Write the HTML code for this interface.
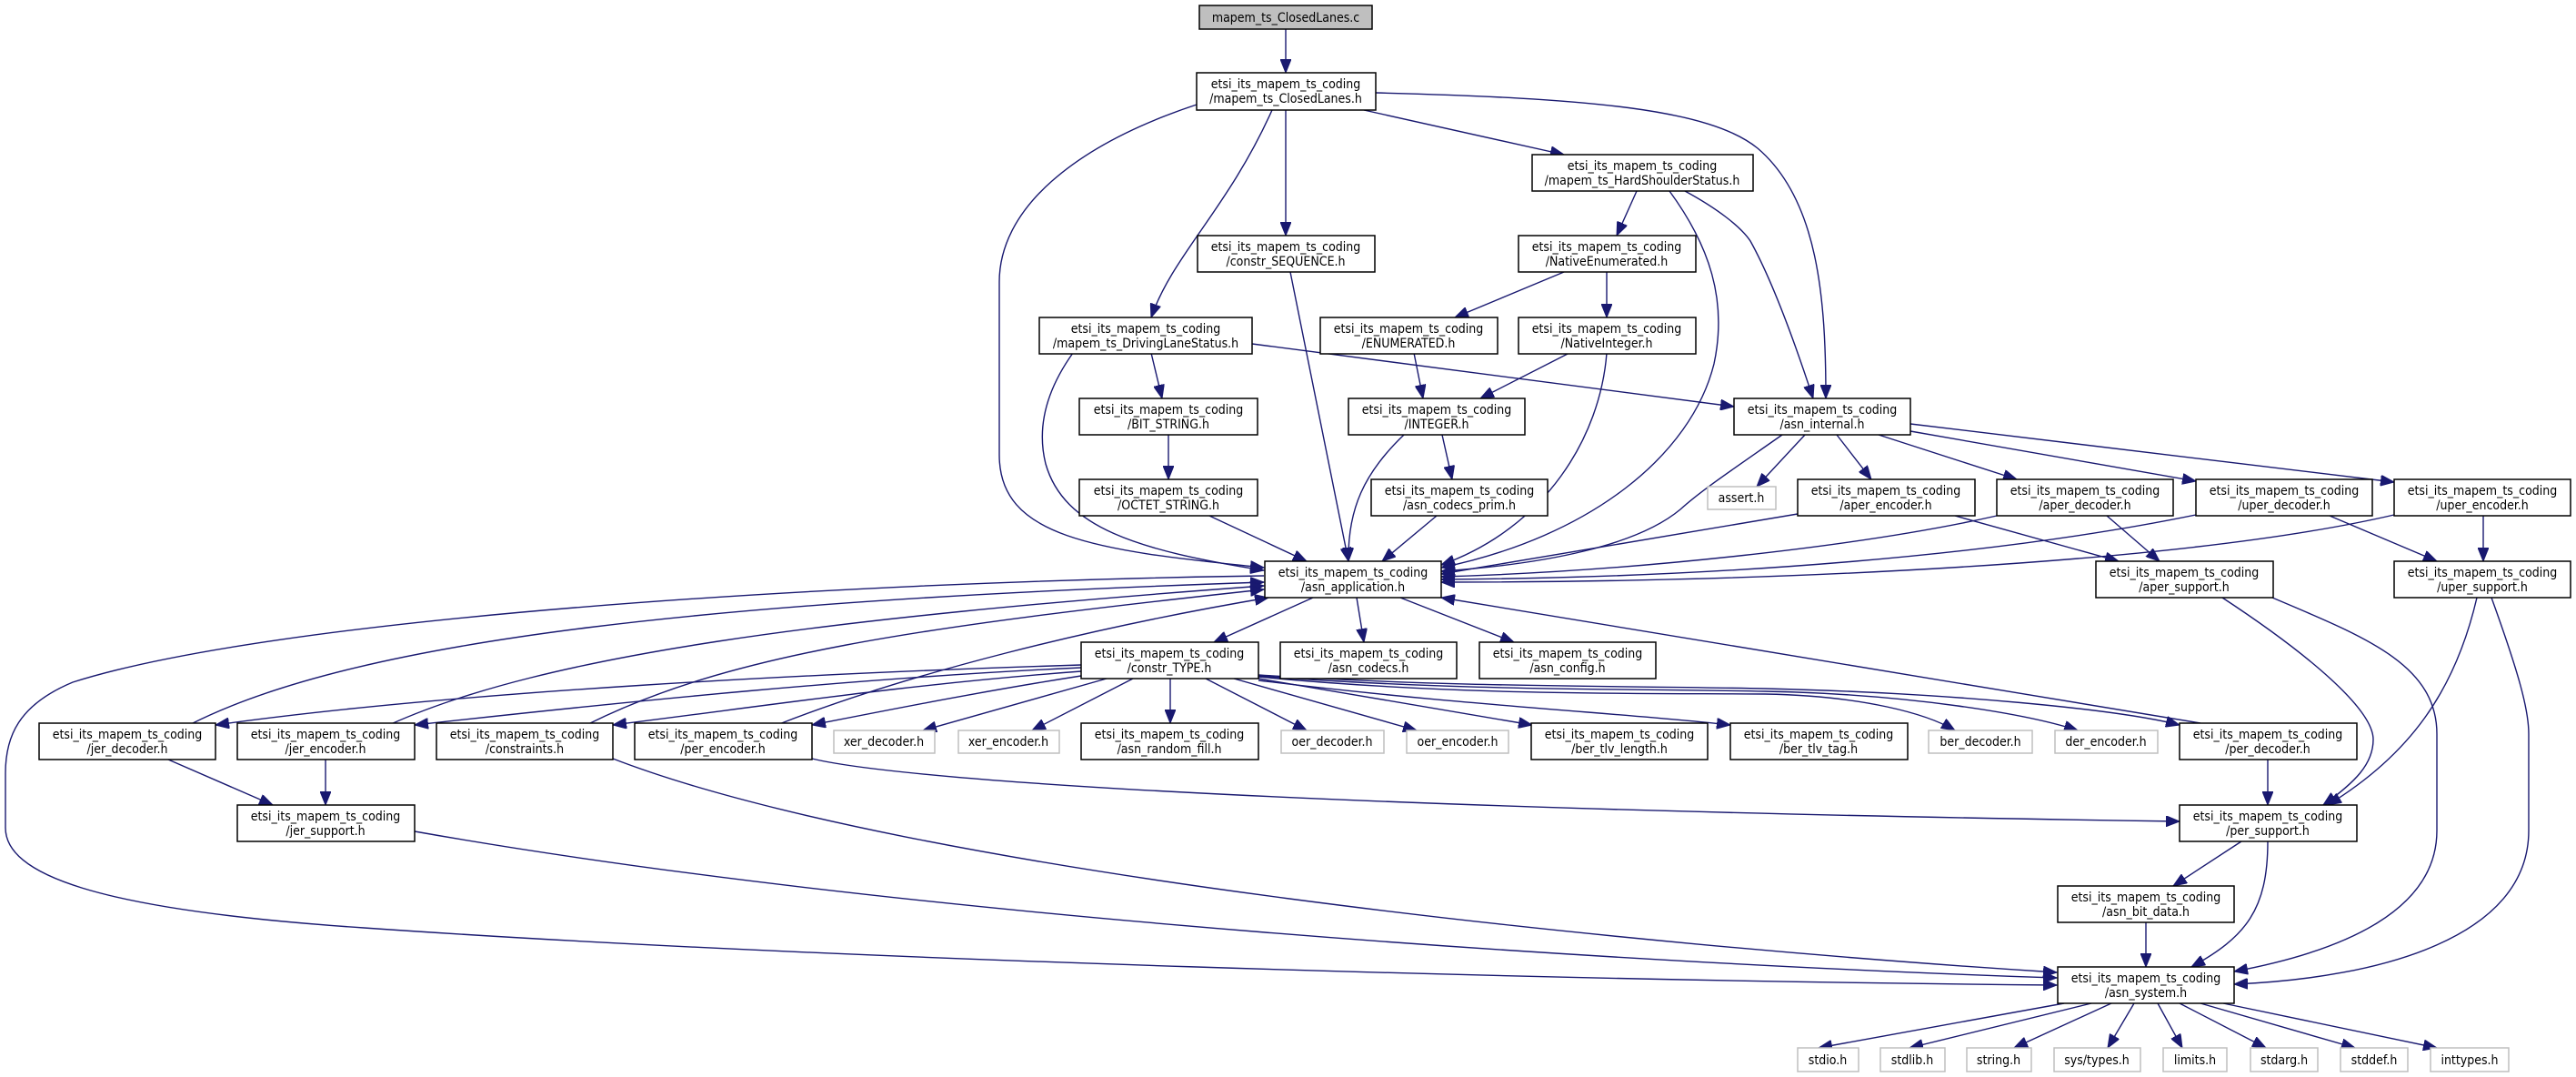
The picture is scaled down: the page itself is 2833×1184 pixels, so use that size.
<!DOCTYPE html>
<html><head><meta charset="utf-8"><style>
html,body{margin:0;padding:0;background:#fff;}
svg{display:block;}
text{font-family:"DejaVu Sans Condensed","DejaVu Sans","Liberation Sans",sans-serif;font-size:14px;fill:#000;text-anchor:middle;}
.n{fill:#fff;stroke:#000;stroke-width:1.5;}
.g{fill:#fff;stroke:#bfbfbf;stroke-width:1.5;}
.e{fill:none;stroke:#191970;stroke-width:1.4;marker-end:url(#a);}
</style></head><body>
<svg width="2833" height="1184" viewBox="0 0 2833 1184" xmlns="http://www.w3.org/2000/svg">
<defs><marker id="a" markerWidth="16" markerHeight="12" refX="15" refY="6" orient="auto" markerUnits="userSpaceOnUse"><path d="M0,0 L15,6 L0,12 z" fill="#191970" stroke="#191970"/></marker></defs>

<!-- edges -->
<path class="e" d="M1414,32 L1414,80"/>
<path class="e" d="M1316,115 C1180,160 1099,230 1099,310 L1099,500 C1099,590 1200,605 1390,624"/>
<path class="e" d="M1414,121 L1414,259"/>
<path class="e" d="M1399,121 C1350,230 1290,280 1266,349"/>
<path class="e" d="M1500,121 L1720,170"/>
<path class="e" d="M1513,102 C1750,108 1880,120 1933,163 C2000,220 2008,330 2008,438"/>
<path class="e" d="M1180,388 C1150,430 1140,470 1150,510 C1170,580 1250,605 1390,627"/>
<path class="e" d="M1266,388 L1278,438"/>
<path class="e" d="M1377,378 L1907,447"/>
<path class="e" d="M1419,299 L1483,617"/>
<path class="e" d="M1800,210 L1778,259"/>
<path class="e" d="M1836,210 C1880,270 1900,330 1885,400 C1860,500 1750,590 1585,624"/>
<path class="e" d="M1853,210 C1890,230 1915,250 1925,265 C1950,310 1975,380 1994,438"/>
<path class="e" d="M1720,299 L1600,349"/>
<path class="e" d="M1767,299 L1767,349"/>
<path class="e" d="M1555,388 L1565,438"/>
<path class="e" d="M1726,388 L1628,438"/>
<path class="e" d="M1767,388 C1760,480 1700,580 1585,621"/>
<path class="e" d="M1285,478 L1285,527"/>
<path class="e" d="M1330,567 L1437,617"/>
<path class="e" d="M1544,478 C1500,520 1482,560 1483,617"/>
<path class="e" d="M1586,478 L1597,527"/>
<path class="e" d="M1580,567 L1520,617"/>
<path class="e" d="M1960,478 C1900,520 1870,540 1848,560 C1800,600 1700,620 1585,628"/>
<path class="e" d="M1985,478 L1932,535"/>
<path class="e" d="M2020,478 L2058,527"/>
<path class="e" d="M2066,478 L2218,527"/>
<path class="e" d="M2101,474 L2415,529"/>
<path class="e" d="M2101,466 L2633,530"/>
<path class="e" d="M1977,565 L1585,631"/>
<path class="e" d="M2196,567 C2050,600 1800,628 1585,634"/>
<path class="e" d="M2415,566 C2200,610 1900,635 1585,637"/>
<path class="e" d="M2633,566 C2400,620 1950,640 1585,640"/>
<path class="e" d="M2150,567 L2330,617"/>
<path class="e" d="M2317,567 L2375,617"/>
<path class="e" d="M2562,567 L2680,617"/>
<path class="e" d="M2731,567 L2731,617"/>
<path class="e" d="M2444,657 C2540,720 2610,780 2610,813 C2610,840 2590,860 2555,885"/>
<path class="e" d="M2499,657 C2600,700 2680,730 2680,807 L2680,913 C2680,1000 2580,1045 2457,1068"/>
<path class="e" d="M2724,657 C2700,760 2650,830 2560,885"/>
<path class="e" d="M2740,657 C2770,740 2781,780 2781,807 L2781,913 C2781,1030 2620,1075 2457,1082"/>
<path class="e" d="M1444,657 L1335,706"/>
<path class="e" d="M1492,657 L1500,706"/>
<path class="e" d="M1540,657 L1665,706"/>
<path class="e" d="M2420,795 L1585,657"/>
<path class="e" d="M2494,835 L2494,885"/>
<path class="e" d="M1189,731 C900,740 500,760 237,797"/>
<path class="e" d="M1189,734 C950,745 700,770 456,797"/>
<path class="e" d="M1189,738 C1000,752 850,775 674,797"/>
<path class="e" d="M1189,743 C1080,760 980,780 893,797"/>
<path class="e" d="M1217,746 L1015,803"/>
<path class="e" d="M1246,746 L1135,803"/>
<path class="e" d="M1287,746 L1287,795"/>
<path class="e" d="M1326,746 L1437,803"/>
<path class="e" d="M1357,746 L1558,803"/>
<path class="e" d="M1384,746 L1685,797"/>
<path class="e" d="M1384,748 C1600,775 1800,785 1903,797"/>
<path class="e" d="M1384,744 C1600,765 1800,762 1941,763 C2050,765 2120,785 2150,803"/>
<path class="e" d="M1384,743 C1600,760 1800,757 1941,760 C2100,763 2230,785 2285,803"/>
<path class="e" d="M1384,742 C1600,756 1800,754 1941,757 C2150,762 2330,780 2397,797"/>
<path class="e" d="M210,796 C400,700 800,660 1390,640"/>
<path class="e" d="M430,796 C600,720 900,680 1390,644"/>
<path class="e" d="M647,796 C800,720 1000,690 1390,648"/>
<path class="e" d="M857,796 C1000,740 1200,690 1395,657"/>
<path class="e" d="M1390,633 C900,640 300,680 80,750 C20,775 6,810 6,850 L6,910 C6,960 100,1000 400,1020 C900,1055 1700,1078 2262,1083"/>
<path class="e" d="M185,835 L300,885"/>
<path class="e" d="M358,835 L358,885"/>
<path class="e" d="M456,914 C1000,1010 1800,1060 2262,1075"/>
<path class="e" d="M674,834 C1000,960 1800,1040 2262,1069"/>
<path class="e" d="M893,834 C1000,860 1500,890 2397,903"/>
<path class="e" d="M2465,925 L2390,974"/>
<path class="e" d="M2494,925 C2494,1000 2470,1030 2410,1063"/>
<path class="e" d="M2360,1014 L2360,1063"/>
<path class="e" d="M2270,1103 L2000,1152"/>
<path class="e" d="M2300,1103 L2100,1152"/>
<path class="e" d="M2322,1103 L2215,1152"/>
<path class="e" d="M2347,1103 L2318,1152"/>
<path class="e" d="M2373,1103 L2400,1152"/>
<path class="e" d="M2397,1103 L2492,1152"/>
<path class="e" d="M2420,1103 L2590,1152"/>
<path class="e" d="M2445,1103 L2680,1152"/>

<!-- nodes -->
<rect x="1319" y="6" width="190" height="26" fill="#bfbfbf" stroke="#000" stroke-width="1.5"/><text x="1414" y="24">mapem_ts_ClosedLanes.c</text>

<rect class="n" x="1316" y="80" width="197" height="41"/><text x="1414" y="97">etsi_its_mapem_ts_coding</text><text x="1414" y="113">/mapem_ts_ClosedLanes.h</text>
<rect class="n" x="1685" y="170" width="243" height="40"/><text x="1806" y="187">etsi_its_mapem_ts_coding</text><text x="1806" y="203">/mapem_ts_HardShoulderStatus.h</text>
<rect class="n" x="1317" y="259" width="195" height="40"/><text x="1414" y="276">etsi_its_mapem_ts_coding</text><text x="1414" y="292">/constr_SEQUENCE.h</text>
<rect class="n" x="1670" y="259" width="195" height="40"/><text x="1767" y="276">etsi_its_mapem_ts_coding</text><text x="1767" y="292">/NativeEnumerated.h</text>
<rect class="n" x="1143" y="349" width="234" height="40"/><text x="1260" y="366">etsi_its_mapem_ts_coding</text><text x="1260" y="382">/mapem_ts_DrivingLaneStatus.h</text>
<rect class="n" x="1452" y="349" width="195" height="40"/><text x="1549" y="366">etsi_its_mapem_ts_coding</text><text x="1549" y="382">/ENUMERATED.h</text>
<rect class="n" x="1670" y="349" width="195" height="40"/><text x="1767" y="366">etsi_its_mapem_ts_coding</text><text x="1767" y="382">/NativeInteger.h</text>
<rect class="n" x="1187" y="438" width="196" height="40"/><text x="1285" y="455">etsi_its_mapem_ts_coding</text><text x="1285" y="471">/BIT_STRING.h</text>
<rect class="n" x="1483" y="438" width="194" height="40"/><text x="1580" y="455">etsi_its_mapem_ts_coding</text><text x="1580" y="471">/INTEGER.h</text>
<rect class="n" x="1907" y="438" width="194" height="40"/><text x="2004" y="455">etsi_its_mapem_ts_coding</text><text x="2004" y="471">/asn_internal.h</text>
<rect class="n" x="1187" y="527" width="196" height="40"/><text x="1285" y="544">etsi_its_mapem_ts_coding</text><text x="1285" y="560">/OCTET_STRING.h</text>
<rect class="n" x="1508" y="527" width="194" height="40"/><text x="1605" y="544">etsi_its_mapem_ts_coding</text><text x="1605" y="560">/asn_codecs_prim.h</text>
<rect class="g" x="1878" y="535" width="75" height="25"/><text x="1915" y="552">assert.h</text>
<rect class="n" x="1977" y="527" width="195" height="40"/><text x="2074" y="544">etsi_its_mapem_ts_coding</text><text x="2074" y="560">/aper_encoder.h</text>
<rect class="n" x="2196" y="527" width="194" height="40"/><text x="2293" y="544">etsi_its_mapem_ts_coding</text><text x="2293" y="560">/aper_decoder.h</text>
<rect class="n" x="2415" y="527" width="194" height="40"/><text x="2512" y="544">etsi_its_mapem_ts_coding</text><text x="2512" y="560">/uper_decoder.h</text>
<rect class="n" x="2633" y="527" width="194" height="40"/><text x="2730" y="544">etsi_its_mapem_ts_coding</text><text x="2730" y="560">/uper_encoder.h</text>
<rect class="n" x="1391" y="617" width="194" height="40"/><text x="1488" y="634">etsi_its_mapem_ts_coding</text><text x="1488" y="650">/asn_application.h</text>
<rect class="n" x="2305" y="617" width="195" height="40"/><text x="2402" y="634">etsi_its_mapem_ts_coding</text><text x="2402" y="650">/aper_support.h</text>
<rect class="n" x="2633" y="617" width="194" height="40"/><text x="2730" y="634">etsi_its_mapem_ts_coding</text><text x="2730" y="650">/uper_support.h</text>
<rect class="n" x="1189" y="706" width="195" height="40"/><text x="1286" y="723">etsi_its_mapem_ts_coding</text><text x="1286" y="739">/constr_TYPE.h</text>
<rect class="n" x="1408" y="706" width="194" height="40"/><text x="1505" y="723">etsi_its_mapem_ts_coding</text><text x="1505" y="739">/asn_codecs.h</text>
<rect class="n" x="1627" y="706" width="194" height="40"/><text x="1724" y="723">etsi_its_mapem_ts_coding</text><text x="1724" y="739">/asn_config.h</text>

<rect class="n" x="43" y="795" width="194" height="40"/><text x="140" y="812">etsi_its_mapem_ts_coding</text><text x="140" y="828">/jer_decoder.h</text>
<rect class="n" x="261" y="795" width="195" height="40"/><text x="358" y="812">etsi_its_mapem_ts_coding</text><text x="358" y="828">/jer_encoder.h</text>
<rect class="n" x="480" y="795" width="194" height="40"/><text x="577" y="812">etsi_its_mapem_ts_coding</text><text x="577" y="828">/constraints.h</text>
<rect class="n" x="698" y="795" width="195" height="40"/><text x="795" y="812">etsi_its_mapem_ts_coding</text><text x="795" y="828">/per_encoder.h</text>
<rect class="g" x="917" y="803" width="111" height="25"/><text x="972" y="820">xer_decoder.h</text>
<rect class="g" x="1054" y="803" width="111" height="25"/><text x="1109" y="820">xer_encoder.h</text>
<rect class="n" x="1189" y="795" width="195" height="40"/><text x="1286" y="812">etsi_its_mapem_ts_coding</text><text x="1286" y="828">/asn_random_fill.h</text>
<rect class="g" x="1409" y="803" width="113" height="25"/><text x="1465" y="820">oer_decoder.h</text>
<rect class="g" x="1547" y="803" width="112" height="25"/><text x="1603" y="820">oer_encoder.h</text>
<rect class="n" x="1684" y="795" width="194" height="40"/><text x="1781" y="812">etsi_its_mapem_ts_coding</text><text x="1781" y="828">/ber_tlv_length.h</text>
<rect class="n" x="1903" y="795" width="195" height="40"/><text x="2000" y="812">etsi_its_mapem_ts_coding</text><text x="2000" y="828">/ber_tlv_tag.h</text>
<rect class="g" x="2121" y="803" width="114" height="25"/><text x="2178" y="820">ber_decoder.h</text>
<rect class="g" x="2260" y="803" width="113" height="25"/><text x="2316" y="820">der_encoder.h</text>
<rect class="n" x="2397" y="795" width="195" height="40"/><text x="2494" y="812">etsi_its_mapem_ts_coding</text><text x="2494" y="828">/per_decoder.h</text>

<rect class="n" x="261" y="885" width="195" height="40"/><text x="358" y="902">etsi_its_mapem_ts_coding</text><text x="358" y="918">/jer_support.h</text>
<rect class="n" x="2397" y="885" width="195" height="40"/><text x="2494" y="902">etsi_its_mapem_ts_coding</text><text x="2494" y="918">/per_support.h</text>
<rect class="n" x="2263" y="974" width="194" height="40"/><text x="2360" y="991">etsi_its_mapem_ts_coding</text><text x="2360" y="1007">/asn_bit_data.h</text>
<rect class="n" x="2263" y="1063" width="194" height="40"/><text x="2360" y="1080">etsi_its_mapem_ts_coding</text><text x="2360" y="1096">/asn_system.h</text>

<rect class="g" x="1977" y="1152" width="67" height="26"/><text x="2010" y="1170">stdio.h</text>
<rect class="g" x="2068" y="1152" width="71" height="26"/><text x="2103" y="1170">stdlib.h</text>
<rect class="g" x="2163" y="1152" width="71" height="26"/><text x="2198" y="1170">string.h</text>
<rect class="g" x="2259" y="1152" width="95" height="26"/><text x="2306" y="1170">sys/types.h</text>
<rect class="g" x="2379" y="1152" width="70" height="26"/><text x="2414" y="1170">limits.h</text>
<rect class="g" x="2475" y="1152" width="74" height="26"/><text x="2512" y="1170">stdarg.h</text>
<rect class="g" x="2574" y="1152" width="74" height="26"/><text x="2611" y="1170">stddef.h</text>
<rect class="g" x="2673" y="1152" width="86" height="26"/><text x="2716" y="1170">inttypes.h</text>
</svg>
</body></html>
